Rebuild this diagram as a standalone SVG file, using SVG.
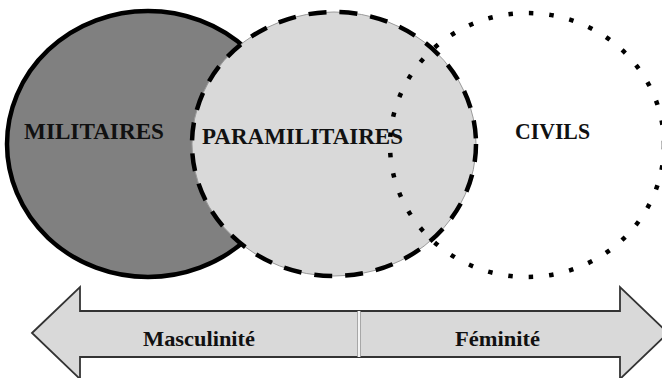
<svg xmlns="http://www.w3.org/2000/svg" width="662" height="378" viewBox="0 0 662 378">
<style>
.lbl{font-family:'Liberation Serif','Times New Roman',Times,serif;font-weight:700;fill:#111;}
.big{font-size:23px;}
.small{font-size:22px;}
</style>
<rect width="662" height="378" fill="#ffffff"/>
<g id="militaires">
<ellipse cx="148" cy="144" rx="141" ry="133" fill="#808080" stroke="#000" stroke-width="4.5"/>
<text class="lbl big" x="24" y="139" textLength="140" lengthAdjust="spacingAndGlyphs">MILITAIRES</text>
</g>
<g id="paramilitaires">
<ellipse cx="334" cy="144" rx="142" ry="132" fill="#d9d9d9" stroke="#9a9a9a" stroke-width="1"/>
<ellipse cx="334" cy="144" rx="142" ry="132" fill="none" stroke="#000" stroke-width="4.5" stroke-dasharray="18 13"/>
<text class="lbl big" x="202" y="144" textLength="201" lengthAdjust="spacingAndGlyphs">PARAMILITAIRES</text>
</g>
<g id="civils">
<ellipse cx="527" cy="145" rx="137" ry="132" fill="none" stroke="#000" stroke-width="4.5" stroke-dasharray="4.5 16"/>
<text class="lbl big" x="515" y="139" textLength="75" lengthAdjust="spacingAndGlyphs">CIVILS</text>
</g>
<g id="axe">
<polygon points="32,333 80,287 80,311 620,311 620,287 668,333 620,379 620,357 80,357 80,379" fill="#d9d9d9" stroke="#333" stroke-width="1.8"/>
<line x1="359" y1="311" x2="359" y2="357" stroke="#f4f4f4" stroke-width="2"/>
<line x1="357.5" y1="311" x2="357.5" y2="357" stroke="#9a9a9a" stroke-width="0.8"/>
<line x1="360.5" y1="311" x2="360.5" y2="357" stroke="#9a9a9a" stroke-width="0.8"/>
<text class="lbl small" x="143" y="346" textLength="112" lengthAdjust="spacingAndGlyphs">Masculinité</text>
<text class="lbl small" x="455" y="346" textLength="85" lengthAdjust="spacingAndGlyphs">Féminité</text>
</g>
</svg>
